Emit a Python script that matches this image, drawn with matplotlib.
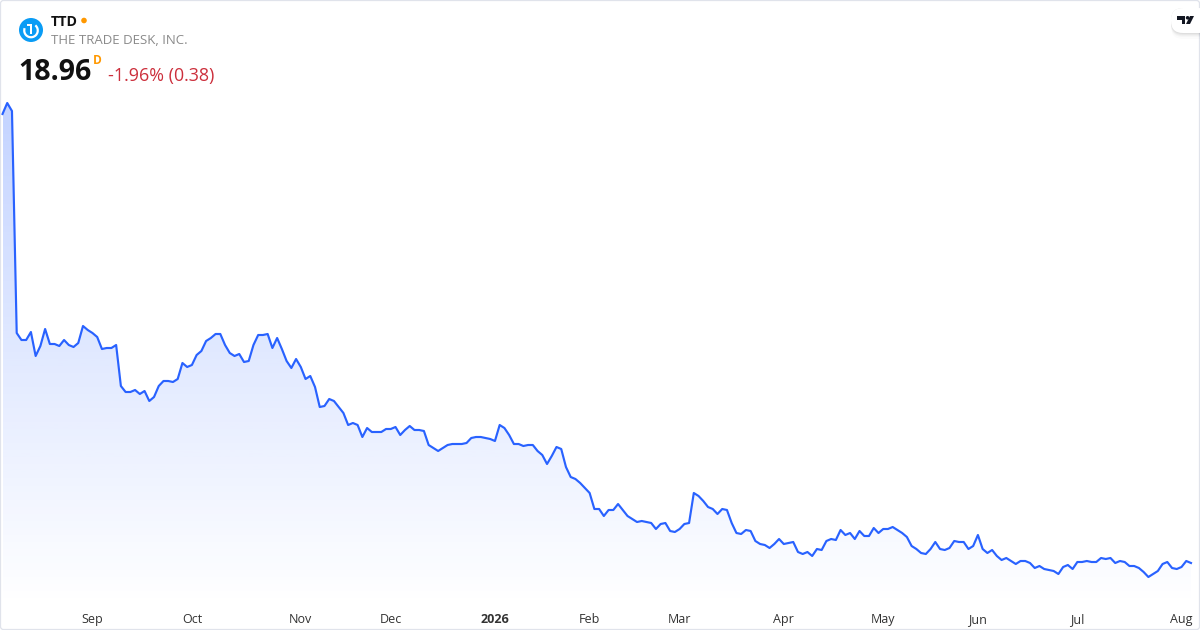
import numpy as np
import pandas as pd
import matplotlib
matplotlib.use('Agg')
import matplotlib.pyplot as plt
from matplotlib.patches import FancyBboxPatch, Circle, Arc, Polygon, Rectangle

plt.rcParams['font.family'] = ['Open Sans', 'Noto Sans', 'DejaVu Sans']

symbol = 'TTD'
company = 'THE TRADE DESK, INC.'
last_price = '18.96'
interval = 'D'
change_text = '-1.96% (0.38)'

holidays = ['2025-09-01', '2025-11-27', '2025-12-25', '2026-01-01', '2026-01-19',
            '2026-02-16', '2026-04-03', '2026-05-25', '2026-06-19', '2026-07-03']

# daily close
closes = [
    86.31, 87.96, 86.76, 53.46, 52.41, 52.41, 53.61, 50.01, 51.51, 54.06,
    51.81, 51.81, 51.51, 52.41, 51.66, 51.36, 51.96, 54.51, 53.91, 53.46,
    52.86, 51.06, 51.21, 51.21, 51.66, 45.51, 44.61, 44.61, 44.91, 44.31,
    44.76, 43.26, 43.86, 45.51, 46.26, 46.26, 46.11, 46.56, 48.96, 48.36,
    48.66, 50.16, 50.76, 52.26, 52.71, 53.31, 53.31, 51.66, 50.46, 50.01,
    50.31, 49.11, 49.26, 51.66, 53.16, 53.16, 53.31, 51.21, 52.71, 51.06,
    49.26, 48.21, 49.56, 48.36, 46.56, 47.01, 45.36, 42.36, 42.51, 43.56,
    43.26, 42.36, 41.46, 39.66, 39.96, 39.66, 37.86, 39.21, 38.61, 38.61,
    38.61, 39.06, 39.06, 39.36, 38.16, 38.91, 39.51, 38.91, 38.91, 38.76,
    36.66, 36.21, 35.76, 36.21, 36.66, 36.81, 36.81, 36.81, 36.96, 37.71,
    37.86, 37.86, 37.71, 37.56, 37.26, 39.66, 39.21, 38.16, 36.81, 36.81,
    36.51, 36.66, 36.66, 35.76, 35.16, 33.81, 35.01, 36.36, 36.06, 33.36,
    31.86, 31.56, 30.96, 30.21, 29.46, 27.06, 27.06, 26.01, 26.91, 26.91,
    27.81, 26.91, 26.01, 25.56, 25.11, 25.26, 25.11, 24.96, 24.06, 24.81,
    24.96, 23.76, 23.61, 24.06, 24.81, 24.96, 29.46, 29.01, 28.26, 27.36,
    27.06, 26.31, 27.06, 26.91, 24.96, 23.46, 23.31, 23.91, 23.76, 22.26,
    21.81, 21.66, 21.21, 21.81, 22.56, 21.81, 21.96, 22.11, 20.61, 20.31,
    20.61, 20.01, 21.06, 20.91, 22.26, 22.56, 22.41, 23.91, 23.16, 23.46,
    22.56, 23.76, 23.01, 23.01, 24.21, 23.46, 24.06, 24.06, 24.36, 23.91,
    23.46, 22.86, 21.51, 21.06, 20.46, 20.31, 21.06, 22.11, 21.06, 20.91,
    21.21, 22.26, 22.11, 22.11, 21.06, 21.51, 23.16, 21.06, 20.46, 20.91,
    20.01, 19.41, 19.71, 19.26, 18.81, 19.26, 19.26, 18.96, 18.21, 18.51,
    18.06, 17.91, 17.76, 17.31, 18.36, 18.66, 18.06, 19.11, 19.11, 19.26,
    19.11, 19.11, 19.71, 19.56, 19.71, 18.96, 19.26, 19.11, 18.51, 18.51,
    18.21, 17.61, 16.86, 17.31, 17.76, 18.81, 19.11, 18.21, 18.06, 18.36,
    19.26, 18.96,
]

dates = pd.bdate_range('2025-08-05', '2026-08-05')
dates = dates[~dates.isin(pd.to_datetime(holidays))]
idx = np.arange(len(closes))
closes = np.array(closes)

# first trading day of every month gets a label
month_start = pd.Series(dates.to_period('M')).drop_duplicates().index[1:]
tick_labels = [dates[i].strftime('%b') if dates[i].month != 1 else str(dates[i].year)
               for i in month_start]

LINE = '#2962FF'
fig = plt.figure(figsize=(12, 6.3), dpi=100, facecolor='white')
ax = fig.add_axes([0, 0, 1, 1])

# axis limits so the series lands on the chart area
step = 4.735
xlim = (-2.5 / step, (1200 - 2.5) / step)
ylim = (8.91, 103.41)
ax.set_facecolor('white')
for s in ax.spines.values():
    s.set_visible(False)
ax.set_yticks([])
ax.set_xticks(month_start)
ax.set_xticklabels(tick_labels)
ax.tick_params(axis='x', length=0, pad=-12, labelsize=9, labelcolor='#333333')
for lab in ax.get_xticklabels():
    if lab.get_text() == '2026':
        lab.set_fontweight('bold')

# area under the line, fades out towards the bottom
base = 12.5
poly = ax.fill_between(idx, closes, base, color='none', lw=0)
rgba = np.zeros((256, 1, 4))
rgba[..., :3] = matplotlib.colors.to_rgb(LINE)
rgba[..., 3] = np.linspace(0.28, 0.0, 256)[:, None]
img = ax.imshow(rgba, extent=[idx[0], idx[-1], base, closes.max()],
                origin='upper', aspect='auto', zorder=1)
img.set_clip_path(poly.get_paths()[0], transform=ax.transData)
ax.set_xlim(*xlim)
ax.set_ylim(*ylim)

ax.plot(idx, closes, color=LINE, lw=1.55, zorder=2, solid_joinstyle='round')

# header and frame in pixel coordinates
ov = fig.add_axes([0, 0, 1, 1], facecolor='none')
ov.set_xlim(0, 1200)
ov.set_ylim(630, 0)
ov.axis('off')

ov.add_patch(FancyBboxPatch((0.5, 0.5), 1199, 629, boxstyle='round,pad=0,rounding_size=3',
                            fc='none', ec='#E0E3EB', lw=0.9))

ov.add_patch(Circle((31, 30), 12, fc='#0A9CF5', ec='none'))
ov.add_patch(Arc((31, 30.5), 13.5, 13.5, theta1=-50, theta2=200, ec='white', lw=1.6))
ov.add_patch(Rectangle((29.8, 24), 2.5, 10, fc='white', ec='none'))
ov.add_patch(Rectangle((26.5, 24), 5.5, 2.2, fc='white', ec='none'))

ov.text(51, 21.5, symbol, fontsize=10.2, fontweight='bold', color='#111111', va='center')
ov.add_patch(Circle((84, 20.5), 2.8, fc='#FF9800', ec='none'))
ov.text(51, 41, company, fontsize=9.5, color='#8A8A8A', va='center')
ov.text(18.5, 73, last_price, fontsize=20.6, fontweight='bold', color='#111111', va='center')
ov.text(93, 61, interval, fontsize=8.6, fontweight='bold', color='#FF9800', va='center')
ov.text(108, 76, change_text, fontsize=12.9, color='#CC2F3C', va='center')

# TradingView tab in the corner
for off, a in zip([6, 4, 3, 2, 1], [0.015, 0.02, 0.025, 0.03, 0.04]):
    ov.add_patch(FancyBboxPatch((1171, 8), 40, 25 + off, boxstyle='round,pad=0,rounding_size=12',
                                fc='black', ec='none', alpha=a))
ov.add_patch(FancyBboxPatch((1171, 8), 40, 25, boxstyle='round,pad=0,rounding_size=12',
                            fc='white', ec='none'))
ov.add_patch(Polygon([(1177, 16), (1185, 16), (1185, 24), (1181.5, 24), (1181.5, 19.5), (1177, 19.5)],
                     fc='#131722', ec='none'))
ov.add_patch(Circle((1187.6, 17.8), 1.8, fc='#131722', ec='none'))
ov.add_patch(Polygon([(1190, 16), (1194, 16), (1190, 24), (1186, 24)], fc='#131722', ec='none'))

fig.savefig('out.png', dpi=100)
